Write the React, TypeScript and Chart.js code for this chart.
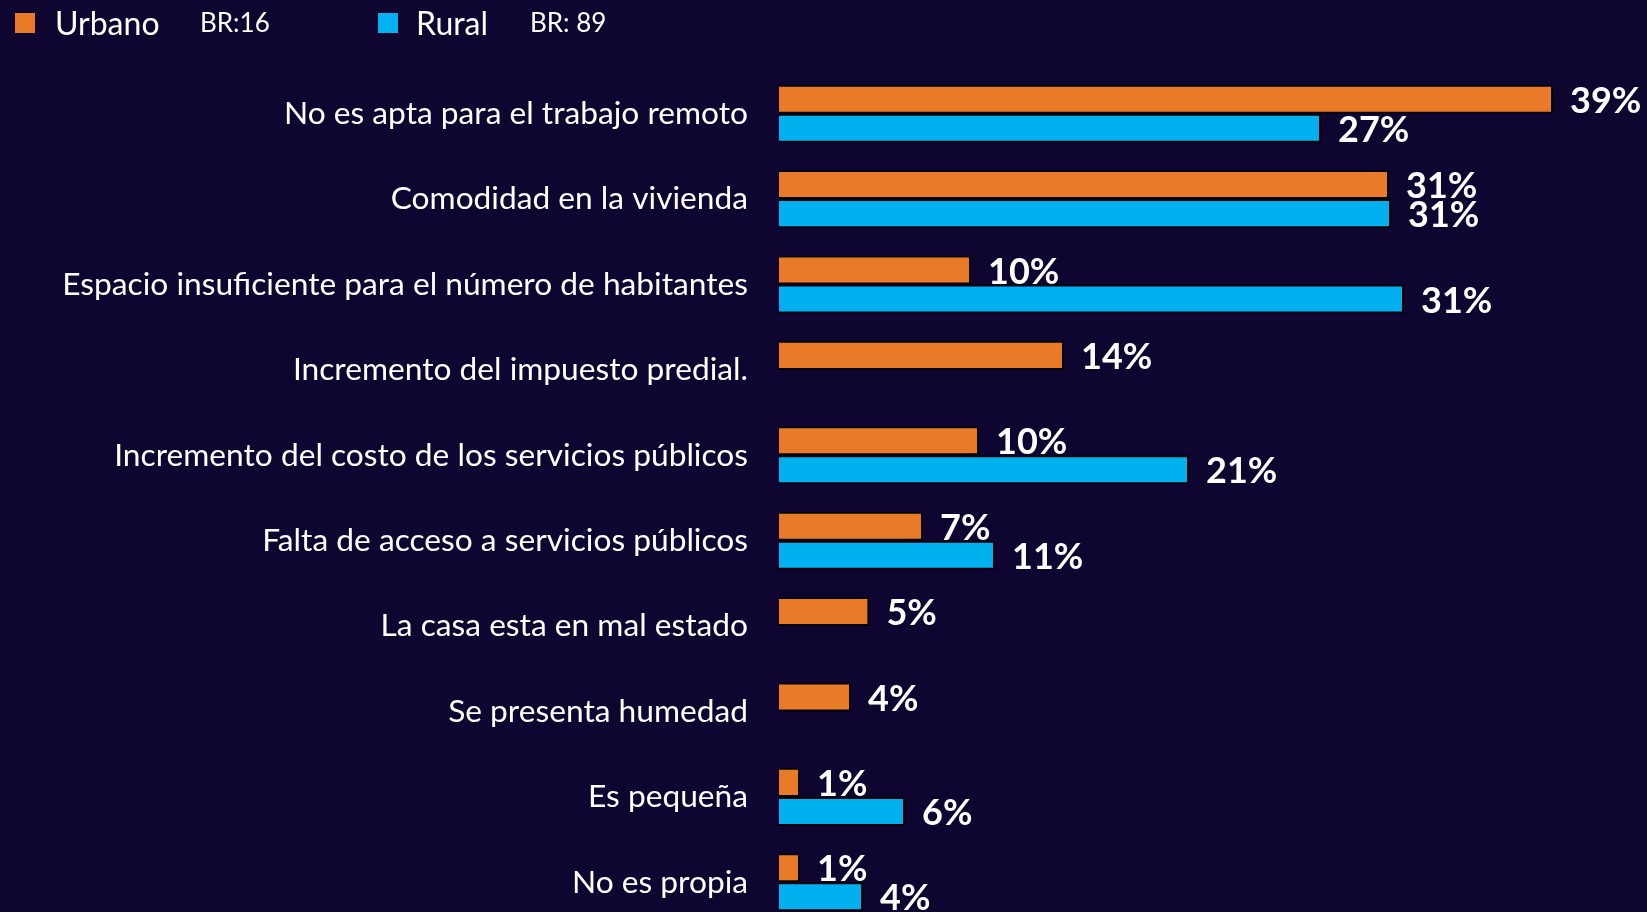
import React, { useEffect, useRef } from "react";
import { Chart, registerables } from "chart.js";

Chart.register(...registerables);

const categories = [
  "No es apta para el trabajo remoto",
  "Comodidad en la vivienda",
  "Espacio insuficiente para el número de habitantes",
  "Incremento del impuesto predial.",
  "Incremento del costo de los servicios públicos",
  "Falta de acceso a servicios públicos",
  "La casa esta en mal estado",
  "Se presenta humedad",
  "Es pequeña",
  "No es propia",
];
const urbanoValues: (number | null)[] = [38.7, 30.5, 9.6, 14.25, 10.0, 7.2, 4.52, 3.6, 1.05, 1.05];
const ruralValues: (number | null)[] = [27.1, 30.6, 31.25, null, 20.5, 10.8, null, null, 6.3, 4.2];
const seriesNames = ["Urbano", "Rural"];
const baseLabels = ["BR:16", "BR: 89"];

const BG = "#0e0530";
const ORANGE = "#E97B28";
const BLUE = "#00B0EF";
const W = 1647;
const TICK_FONT = 31.7;
const TICK_PAD = 31;
const AREA_LEFT = 779;
const AREA_WIDTH = 800;
// chart area should end at ~925; the y scale adds half a label height + padding below
const H = 925 + Math.round((TICK_FONT * 1.2) / 2 + TICK_PAD);

const valueLabelPlugin = {
  id: "valueLabels",
  afterDatasetsDraw(chart: any) {
    const ctx = chart.ctx;
    ctx.save();
    ctx.font = "bold 36px Lato";
    ctx.fillStyle = "#ffffff";
    ctx.textAlign = "left";
    ctx.textBaseline = "middle";
    chart.data.datasets.forEach((ds: any, i: number) => {
      const meta = chart.getDatasetMeta(i);
      meta.data.forEach((bar: any, j: number) => {
        const v = ds.data[j];
        if (v === null || v === undefined) return;
        ctx.fillText(Math.round(v) + "%", bar.x + 17, bar.y + 2);
      });
    });
    ctx.restore();
  },
};

export default function App() {
  const ref = useRef<HTMLCanvasElement>(null);
  useEffect(() => {
    document.body.style.margin = "0";
    document.body.style.background = BG;
    document.body.style.overflow = "hidden";
    const chart = new Chart(ref.current!, {
      type: "bar",
      data: {
        labels: categories,
        datasets: [
          {
            label: seriesNames[0],
            data: urbanoValues,
            backgroundColor: ORANGE,
            borderColor: "#000000",
            borderWidth: 2,
            categoryPercentage: 0.68,
            barPercentage: 1.0,
          },
          {
            label: seriesNames[1],
            data: ruralValues,
            backgroundColor: BLUE,
            borderColor: "#000000",
            borderWidth: 2,
            categoryPercentage: 0.68,
            barPercentage: 1.0,
          },
        ],
      },
      options: {
        indexAxis: "y",
        responsive: false,
        animation: false,
        layout: { padding: { top: 71, right: W - AREA_LEFT - AREA_WIDTH, bottom: 0, left: 0 } },
        plugins: { legend: { display: false }, tooltip: { enabled: false } },
        scales: {
          x: { display: false, min: 0, max: 40 },
          y: {
            grid: { display: false, drawTicks: false },
            border: { display: false },
            ticks: {
              color: "#ffffff",
              font: { family: "Lato", size: TICK_FONT },
              padding: TICK_PAD,
            },
            afterFit: (scale: any) => {
              scale.width = AREA_LEFT;
            },
          },
        },
      },
      plugins: [valueLabelPlugin],
    });
    return () => chart.destroy();
  }, []);

  const legendText: React.CSSProperties = {
    position: "absolute",
    color: "#ffffff",
    fontFamily: "Lato",
    whiteSpace: "nowrap",
    lineHeight: 1.2,
  };

  return (
    <div style={{ position: "relative", width: W, height: 912, overflow: "hidden", background: BG }}>
      <canvas ref={ref} width={W} height={H} style={{ position: "absolute", left: 0, top: 0, width: W, height: H }} />
      <div style={{ position: "absolute", left: 15, top: 13, width: 20, height: 20, background: ORANGE }} />
      <div style={{ ...legendText, left: 55, top: 4, fontSize: 32 }}>{seriesNames[0]}</div>
      <div style={{ ...legendText, left: 200, top: 7, fontSize: 26 }}>{baseLabels[0]}</div>
      <div style={{ position: "absolute", left: 378, top: 13, width: 20, height: 20, background: BLUE }} />
      <div style={{ ...legendText, left: 416, top: 4, fontSize: 32 }}>{seriesNames[1]}</div>
      <div style={{ ...legendText, left: 530, top: 7, fontSize: 26 }}>{baseLabels[1]}</div>
    </div>
  );
}
